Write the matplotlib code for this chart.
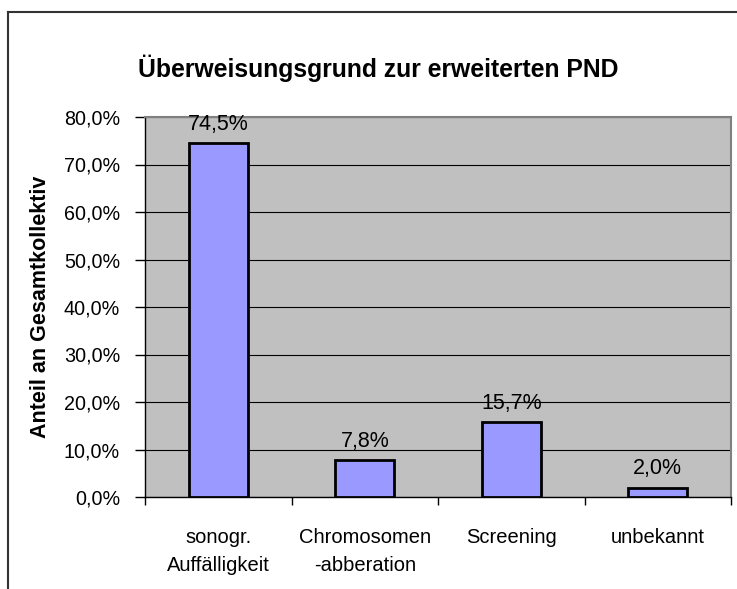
import matplotlib
matplotlib.use("Agg")
import matplotlib.pyplot as plt
from matplotlib.lines import Line2D
from matplotlib.ticker import FuncFormatter, MultipleLocator

categories = ["sonogr.\nAuffälligkeit", "Chromosomen\n-abberation", "Screening", "unbekannt"]
values = [74.5, 7.8, 15.7, 2.0]
title = "Überweisungsgrund zur erweiterten PND"
ylabel = "Anteil an Gesamtkollektiv"

plt.rcParams['font.family'] = ['Liberation Sans', 'DejaVu Sans']

W, H = 737, 589
fig = plt.figure(figsize=(W / 100, H / 100), dpi=100)
ax = fig.add_axes([145 / W, 1 - 497 / H, (731 - 145) / W, (497 - 117) / H])
ax.set_facecolor('#C0C0C0')

x = list(range(len(values)))
ax.bar(x, values, width=0.4, color='#9999FF', edgecolor='black', linewidth=2, zorder=3)
for xi, v in zip(x, values):
    ax.annotate(f"{v:.1f}%".replace('.', ','), (xi, v), xytext=(0, 9.5), textcoords='offset points',
                ha='center', va='baseline', fontsize=15.5, zorder=4)

ax.set_xlim(-0.5, len(values) - 0.5)
ax.set_ylim(0, 80)
ax.yaxis.set_major_locator(MultipleLocator(10))
ax.yaxis.set_major_formatter(FuncFormatter(lambda v, p: f"{v:.1f}%".replace('.', ',')))
ax.grid(axis='y', color='black', linewidth=0.8, zorder=1)
ax.set_axisbelow(True)

ax.set_xticks([i + 0.5 for i in range(-1, len(values))])
ax.set_xticklabels([])
ax.set_xticks(x, minor=True)
ax.set_xticklabels(categories, minor=True, fontsize=14.5, linespacing=1.6)
ax.tick_params(axis='x', which='major', length=6, width=1, direction='out')
ax.tick_params(axis='x', which='minor', length=0, pad=22)
ax.tick_params(axis='y', length=7, width=1, direction='out', labelsize=14.2, pad=11)

for s in ['top', 'right']:
    ax.spines[s].set_color('#808080')
    ax.spines[s].set_linewidth(1.5)
for s in ['left', 'bottom']:
    ax.spines[s].set_color('black')
    ax.spines[s].set_linewidth(1)

ax.set_ylabel(ylabel, fontsize=15.5, fontweight='bold', labelpad=9)
fig.text(378 / W, 1 - 68 / H, title, ha='center', va='center',
         fontsize=17.8, fontweight='bold')

# outer chart frame (cropped on the right and bottom)
fig.add_artist(Line2D([8 / W, 8 / W], [0, 1 - 12 / H], color='#333333', linewidth=1.5,
                      transform=fig.transFigure))
fig.add_artist(Line2D([8 / W, 1], [1 - 12 / H, 1 - 12 / H], color='#333333', linewidth=1.5,
                      transform=fig.transFigure))

fig.savefig("out.png", dpi=100)
